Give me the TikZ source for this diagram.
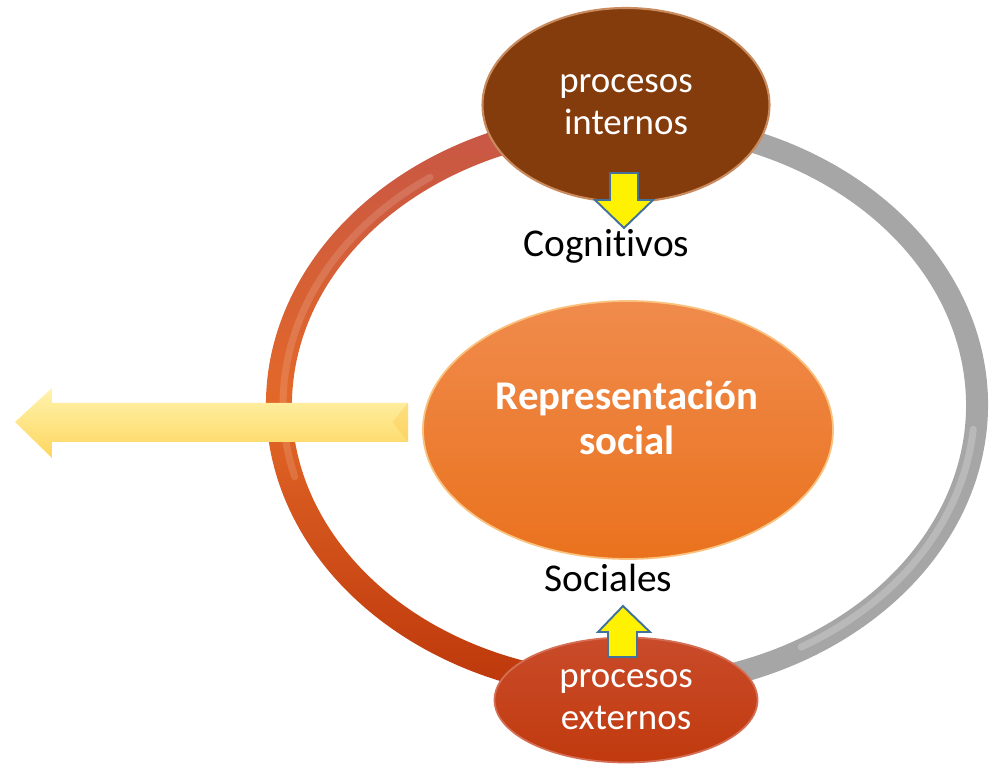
\documentclass[tikz,border=0pt]{standalone}
\usepackage{fontspec}
\setmainfont[Ligatures=NoCommon]{Carlito}
\usetikzlibrary{shapes.geometric}

\definecolor{brownblob}{HTML}{843C0C}
\definecolor{brownrim}{HTML}{C98A5E}
\definecolor{redblob}{HTML}{C13A0E}
\definecolor{redtop}{HTML}{C94B2A}
\definecolor{orangetop}{HTML}{F08B4C}
\definecolor{orangebot}{HTML}{EA721E}
\definecolor{orangerim}{HTML}{F9C27E}
\definecolor{ringA}{HTML}{C65647}
\definecolor{ringB}{HTML}{E36828}
\definecolor{ringC}{HTML}{BC360A}
\definecolor{ringgray}{HTML}{A6A6A6}
\definecolor{paleA}{HTML}{FFF3AE}
\definecolor{paleB}{HTML}{FDD65E}
\definecolor{arrowblue}{HTML}{41719C}

\begin{document}
\begin{tikzpicture}[
    blob/.style={ellipse, inner sep=0pt, text=white, align=center,
        font=\fontsize{21}{24}\selectfont},
    label/.style={font=\fontsize{22.4}{24}\selectfont},
    smallarrow/.style={fill=yellow, draw=arrowblue, line width=1.1pt, line join=miter}
]
\useasboundingbox (0,0) rectangle (19.82,15.32);

% Define ring
\coordinate (ring) at (12.56,7.22);
\begin{scope}[shift={(ring)}]
    \shade[top color=ringA, bottom color=ringC, middle color=ringB]
        (100:7.24 and 5.90) arc[start angle=100, end angle=260, x radius=7.24, y radius=5.90]
        -- (260:6.72 and 5.38) arc[start angle=260, end angle=100, x radius=6.72, y radius=5.38]
        -- cycle;
    \draw[white, opacity=0.14, line width=4pt, line cap=round]
        (125:6.9 and 5.56) arc[start angle=125, end angle=195, x radius=6.9, y radius=5.56];
    \fill[ringgray]
        (80:7.2 and 5.86) arc[start angle=80, end angle=-80, x radius=7.2, y radius=5.86]
        -- (-80:6.76 and 5.42) arc[start angle=-80, end angle=80, x radius=6.76, y radius=5.42]
        -- cycle;
    \draw[white, opacity=0.22, line width=4pt, line cap=round]
        (-5:6.93 and 5.59) arc[start angle=-5, end angle=-60, x radius=6.93, y radius=5.59];
\end{scope}

% Define ellipses
\node[blob, fill=brownblob, draw=brownrim, line width=1.2pt,
    minimum width=5.74cm, minimum height=3.88cm] (intern) at (12.52,13.22) {procesos\\internos};
\node[blob, top color=redtop, bottom color=redblob, draw=redtop!80!white, line width=1pt,
    minimum width=5.26cm, minimum height=2.5cm] (extern) at (12.52,1.32) {procesos\\externos};
\node[blob, top color=orangetop, bottom color=orangebot, draw=orangerim, line width=1pt,
    minimum width=8.2cm, minimum height=5.16cm] (rep) at (12.56,6.72) {};
\node[blob, font=\bfseries\fontsize{23.2}{25.6}\selectfont] (reptext) at (12.54,6.96) {Representación\\social};

% Define labels
\node[label] (cog) at (12.13,10.4) {Cognitivos};
\node[label] (soc) at (12.17,3.76) {Sociales};

% Draw arrows
\shade[top color=paleA, bottom color=paleB]
    (8.16,7.26) -- (1.04,7.26) -- (1.04,7.56) -- (0.30,6.88) -- (1.04,6.16)
    -- (1.04,6.48) -- (8.16,6.48) -- cycle;
\fill[paleB!80!orange, opacity=0.35]
    (8.16,7.26) -- (7.85,6.88) -- (8.16,6.48) -- cycle;
\draw[smallarrow] (12.2,11.86) -- (12.76,11.86) -- (12.76,11.32) -- (13.06,11.32)
    -- (12.48,10.76) -- (11.9,11.32) -- (12.2,11.32) -- cycle;
\draw[smallarrow] (12.16,2.18) -- (12.74,2.18) -- (12.74,2.68) -- (13.0,2.68)
    -- (12.46,3.2) -- (11.96,2.68) -- (12.16,2.68) -- cycle;
\end{tikzpicture}
\end{document}
